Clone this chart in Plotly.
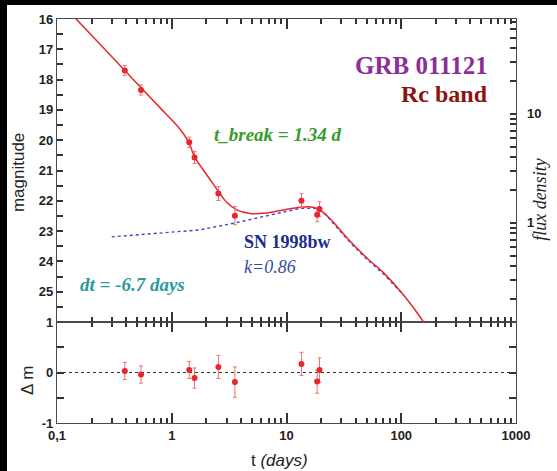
import plotly.graph_objects as go

# Observed Rc-band photometry of GRB 011121 (days since burst, magnitude, 1-sigma error)
obs_t = [0.39, 0.54, 1.42, 1.58, 2.55, 3.55, 13.5, 18.5, 19.4]
obs_mag = [17.70, 18.34, 20.07, 20.57, 21.76, 22.49, 22.00, 22.46, 22.27]
obs_err = [0.17, 0.17, 0.17, 0.20, 0.23, 0.30, 0.23, 0.23, 0.24]

# Residuals (model - data) with the same errors
res_dm = [0.03, -0.04, 0.05, -0.11, 0.11, -0.19, 0.17, -0.18, 0.05]

# Best-fit light curve: broken power-law afterglow + SN 1998bw template
fit_t = [0.12, 0.2, 0.39, 0.54, 0.8, 1.1, 1.26, 1.42, 1.58, 2.15, 2.58, 3.01,
         3.68, 4.81, 6.71, 9.37, 13.1, 17.1, 20.9, 25.6, 35.7, 49.9, 69.8,
         94.3, 125, 160]
fit_mag = [15.65, 16.54, 17.70, 18.27, 18.95, 19.50, 19.78, 20.10, 20.55,
           21.29, 21.72, 22.05, 22.30, 22.42, 22.40, 22.30, 22.21, 22.21,
           22.38, 22.71, 23.33, 23.88, 24.37, 24.90, 25.48, 26.05]

# SN 1998bw template, shifted by dt = -6.7 d and scaled by k = 0.86
sn_t = [0.3, 0.6, 1.0, 1.76, 3.56, 6.71, 13.1, 18.3, 22.0, 25.6, 35.7, 49.9,
        69.8, 94.3, 105]
sn_mag = [23.19, 23.10, 23.04, 22.96, 22.73, 22.49, 22.25, 22.25, 22.46,
          22.75, 23.37, 23.92, 24.41, 24.93, 25.13]

# Axis ticks
x_major = [0.1, 1, 10, 100, 1000]
x_major_labels = ["0,1", "1", "10", "100", "1000"]
mag_ticks = list(range(16, 26))
flux_major = [1, 10]

x_all = [m * d for d in (0.1, 1, 10, 100) for m in range(1, 10)] + [1000]
flux_all = [m * d for d in (0.1, 1, 10) for m in range(1, 10)]


def bold(s):
    return f"<b>{s}</b>" if s else ""


flux_all_labels = [bold("\u00a0\u00a0" + str(v)) if v in flux_major else ""
                   for v in flux_all]

RED = "#e8262e"
AXC = "#4a4a4a"
TKC = "#333333"
TICKFONT = dict(family="Liberation Sans, Arial, sans-serif", size=13,
                color="#222222")

fig = go.Figure()

# --- upper panel ---
fig.add_trace(go.Scatter(x=sn_t, y=sn_mag, xaxis="x2", yaxis="y2", mode="lines",
                         line=dict(color="#3a46c8", width=1.4, dash="dot"),
                         showlegend=False))
fig.add_trace(go.Scatter(x=fit_t, y=fit_mag, xaxis="x2", yaxis="y2", mode="lines",
                         line=dict(color=RED, width=1.5, shape="spline", smoothing=0.8),
                         showlegend=False))
fig.add_trace(go.Scatter(x=obs_t, y=obs_mag, xaxis="x2", yaxis="y2", mode="markers",
                         marker=dict(color=RED, size=6),
                         error_y=dict(type="data", array=obs_err, color="#f07070",
                                      thickness=1, width=2),
                         showlegend=False))

# --- residual panel ---
fig.add_trace(go.Scatter(x=[0.1, 1000], y=[0, 0], xaxis="x", yaxis="y", mode="lines",
                         line=dict(color="#333333", width=1, dash="dot"),
                         showlegend=False))
fig.add_trace(go.Scatter(x=obs_t, y=res_dm, xaxis="x", yaxis="y", mode="markers",
                         marker=dict(color=RED, size=6),
                         error_y=dict(type="data", array=obs_err, color="#f07070",
                                      thickness=1, width=2),
                         showlegend=False))

# invisible carriers for the overlay axes (flux density, long decade ticks)
for xa, ya, yv in (("x2", "y3", 1), ("x3", "y", 0), ("x4", "y2", 20)):
    fig.add_trace(go.Scatter(x=[1], y=[yv], xaxis=xa, yaxis=ya, mode="markers",
                             marker=dict(opacity=0), hoverinfo="skip",
                             showlegend=False))

common_axis = dict(showline=True, linecolor=AXC, linewidth=1.4, ticks="inside",
                   tickcolor=TKC, tickwidth=2, showgrid=False, zeroline=False,
                   tickfont=TICKFONT)

# every 1..9 x 10^n tick, short, no labels
x_minor_axis = dict(type="log", range=[-1, 3], tickmode="array", tickvals=x_all,
                    ticks="inside", ticklen=5, tickcolor=TKC, tickwidth=1.5,
                    showline=True, linecolor=AXC, linewidth=1.4, mirror="ticks",
                    showgrid=False, showticklabels=False, domain=[0, 1])
# decade ticks, long, drawn on top; the bottom one carries the labels
x_major_axis = dict(type="log", range=[-1, 3], tickmode="array", tickvals=x_major,
                    ticktext=[bold(s) for s in x_major_labels], ticks="inside",
                    ticklen=10, tickcolor=TKC, tickwidth=1.5, showline=True,
                    linecolor=AXC, linewidth=1.4, mirror="ticks", showgrid=False,
                    tickfont=TICKFONT)

fig.update_layout(
    width=557, height=471,
    margin=dict(l=57, r=41, t=19, b=48),
    paper_bgcolor="white", plot_bgcolor="rgba(0,0,0,0)",
    xaxis=dict(x_minor_axis, anchor="y"),
    xaxis2=dict(x_minor_axis, anchor="y2"),
    xaxis3=dict(x_major_axis, overlaying="x", anchor="y"),
    xaxis4=dict(x_major_axis, overlaying="x2", anchor="y2", showticklabels=False),
    yaxis=dict(common_axis, domain=[0, 0.25], range=[-1, 1], tickmode="array",
               tickvals=[-1, -0.5, 0, 0.5, 1],
               ticktext=[bold("-1"), "", bold("0"), "", bold("1")], ticklen=7,
               mirror="ticks"),
    yaxis2=dict(common_axis, domain=[0.25, 1], range=[26, 16], tickmode="array",
                tickvals=[v / 2 for v in range(32, 52)],
                ticktext=[bold(str(v // 2)) if v % 2 == 0 and v // 2 in mag_ticks
                          else "" for v in range(32, 52)],
                ticklen=6, anchor="x2"),
    yaxis3=dict(common_axis, overlaying="y2", side="right", anchor="x2", type="log",
                range=[-0.91, 1.87], tickmode="array", tickvals=flux_all,
                ticktext=flux_all_labels, ticklen=6),
)

SERIF = "Liberation Serif, Times New Roman, serif"
SANS = "Liberation Sans, Arial, sans-serif"

annotations = [
    dict(text="<b>GRB 011121</b>", x=0.9434, y=0.8837, xanchor="right",
         font=dict(family=SERIF, size=25, color="#8c2d98")),
    dict(text="<b>Rc band</b>", x=0.9434, y=0.8144, xanchor="right",
         font=dict(family=SERIF, size=24, color="#8e1212")),
    dict(text="<b><i>t_break = 1.34 d</i></b>", x=0.3377, y=0.7129, xanchor="left",
         font=dict(family=SERIF, size=19, color="#3a9a2a")),
    dict(text="<b>SN 1998bw</b>", x=0.403, y=0.4488, xanchor="left",
         font=dict(family=SERIF, size=18, color="#1c2c8c")),
    dict(text="<i>k=0.86</i>", x=0.403, y=0.3869, xanchor="left",
         font=dict(family=SERIF, size=18, color="#3a4aa0")),
    dict(text="<b><i>dt = -6.7 days</i></b>", x=0.0458, y=0.3423, xanchor="left",
         font=dict(family=SERIF, size=19, color="#2a9a9a")),
    dict(text="magnitude", x=-0.085, y=0.621, textangle=-90,
         font=dict(family=SANS, size=17, color="#222222")),
    dict(text="\u0394 m", x=-0.0654, y=0.1064, textangle=-90,
         font=dict(family=SANS, size=17, color="#222222")),
    dict(text="<i>flux density</i>", x=1.052, y=0.552, textangle=-90,
         font=dict(family=SERIF, size=18, color="#222222")),
    dict(text="t <i>(days)</i>", x=0.4858, y=-0.094,
         font=dict(family=SANS, size=17, color="#222222")),
]
for a in annotations:
    a.setdefault("xanchor", "center")
    fig.add_annotation(xref="paper", yref="paper", showarrow=False,
                       yanchor="middle", **a)

# dark frame strips along the top and left edges
fig.add_shape(type="rect", xref="paper", yref="paper",
              x0=-57 / 459, x1=(7 - 57) / 459, y0=-48 / 404, y1=(423 + 48) / 404,
              fillcolor="black", line=dict(width=0), layer="below")
fig.add_shape(type="rect", xref="paper", yref="paper",
              x0=-57 / 459, x1=(557 - 57) / 459, y0=(423 - 5) / 404, y1=(423 + 5) / 404,
              fillcolor="black", line=dict(width=0), layer="below")

fig.write_html("out.html")
